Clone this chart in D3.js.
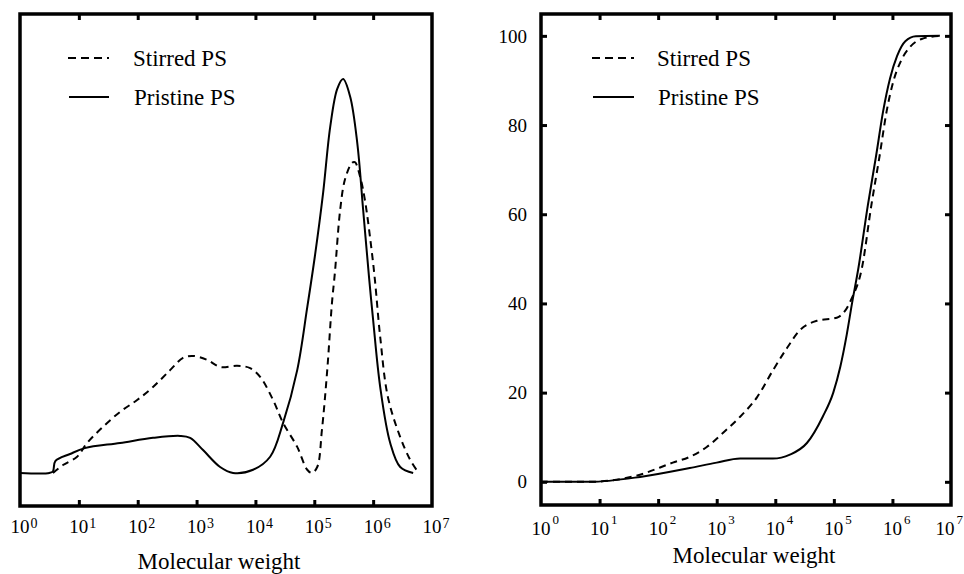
<!DOCTYPE html>
<html><head><meta charset="utf-8">
<script src="https://cdn.jsdelivr.net/npm/d3@7"></script>
<style>
body{margin:0;background:#fff}
svg{display:block}
</style>
</head><body>
<svg id="chart" width="964" height="574" font-family="'Liberation Serif','Times New Roman','DejaVu Serif',serif"></svg>
<script>
// ---------- DATA ----------
const xTickExponents = [0, 1, 2, 3, 4, 5, 6, 7];
const yTicksRight = [0, 20, 40, 60, 80, 100];
const seriesNames = ["Stirred PS", "Pristine PS"];
const xTitle = "Molecular weight";

// Left panel: differential distribution (arbitrary units, pristine peak = 1)
const leftPristineLogM = [0, 0.50, 0.56, 0.60, 0.85, 1.10, 1.70, 2.26, 2.72, 2.89, 3.11, 3.40, 3.62, 3.96, 4.25, 4.47, 4.71, 4.88, 5.01, 5.15, 5.27, 5.39, 5.49, 5.61, 5.73, 5.83, 5.93, 6.00, 6.12, 6.29, 6.46, 6.68];
const leftPristineVal  = [0, 0, 0.004, 0.030, 0.048, 0.063, 0.076, 0.089, 0.094, 0.089, 0.058, 0.015, 0.0, 0.008, 0.041, 0.127, 0.261, 0.420, 0.550, 0.711, 0.878, 0.975, 1.0, 0.955, 0.838, 0.668, 0.497, 0.388, 0.218, 0.076, 0.015, 0.0];
const leftStirredLogM  = [0.56, 0.73, 0.97, 1.14, 1.41, 1.70, 1.99, 2.26, 2.55, 2.77, 2.94, 3.18, 3.40, 3.69, 3.91, 4.08, 4.30, 4.47, 4.71, 4.88, 4.96, 5.05, 5.13, 5.22, 5.30, 5.35, 5.44, 5.52, 5.64, 5.69, 5.78, 5.86, 5.98, 6.03, 6.12, 6.25, 6.46, 6.63, 6.76];
const leftStirredVal   = [0.0, 0.020, 0.041, 0.076, 0.117, 0.155, 0.185, 0.218, 0.261, 0.292, 0.297, 0.287, 0.269, 0.272, 0.266, 0.244, 0.185, 0.127, 0.066, 0.008, 0.0, 0.015, 0.109, 0.261, 0.431, 0.508, 0.668, 0.744, 0.787, 0.789, 0.751, 0.693, 0.558, 0.490, 0.345, 0.193, 0.091, 0.033, 0.003];

// Right panel: cumulative distribution (%)
const rightPristineLogM = [0, 0.84, 1.69, 2.54, 3.00, 3.40, 3.96, 4.25, 4.54, 4.81, 4.99, 5.11, 5.22, 5.31, 5.42, 5.58, 5.72, 5.84, 5.96, 6.08, 6.22, 6.40, 6.81];
const rightPristineVal  = [0, 0, 1.1, 3.1, 4.3, 5.2, 5.2, 6.1, 8.7, 14.6, 20, 25.8, 33, 40, 48, 62, 73, 83, 90.5, 95.5, 98.8, 99.9, 100];
const rightStirredLogM  = [0, 0.84, 1.69, 2.25, 2.54, 2.83, 3.11, 3.40, 3.69, 3.96, 4.20, 4.42, 4.71, 5.05, 5.20, 5.30, 5.48, 5.64, 5.78, 5.90, 6.02, 6.15, 6.30, 6.50, 6.81];
const rightStirredVal   = [0, 0, 1.6, 4.3, 5.6, 7.8, 11, 14.6, 19, 25, 30, 34, 36.1, 36.8, 38.5, 41, 48, 62, 73, 83, 90, 94.5, 97.5, 99.3, 100];

// ---------- DRAW ----------
const svg = d3.select("#chart");
const zip = (lx, v) => lx.map((l, i) => ({ m: Math.pow(10, l), v: v[i] }));

function panel(opts) {
  const x = d3.scaleLog().domain([1, 1e7]).range([opts.x0, opts.x1]);
  const y = d3.scaleLinear().domain(opts.yDomain).range([opts.y1, opts.y0]);
  const g = svg.append("g");

  const line = d3.line().x(d => x(d.m)).y(d => y(d.v)).curve(opts.curve);
  g.append("path").datum(zip(opts.stirred[0], opts.stirred[1]))
    .attr("d", line).attr("fill", "none").attr("stroke", "#000")
    .attr("stroke-width", 2).attr("stroke-dasharray", "7,5");
  g.append("path").datum(zip(opts.pristine[0], opts.pristine[1]))
    .attr("d", line).attr("fill", "none").attr("stroke", "#000")
    .attr("stroke-width", 2);

  // inner x ticks top & bottom
  const inner = xTickExponents.slice(1, -1).map(e => Math.pow(10, e));
  const bAx = g.append("g").attr("transform", `translate(0,${opts.y1})`)
    .call(d3.axisBottom(x).tickValues(inner).tickSizeInner(-6).tickSizeOuter(0).tickFormat(""));
  const tAx = g.append("g").attr("transform", `translate(0,${opts.y0})`)
    .call(d3.axisTop(x).tickValues(inner).tickSizeInner(-6).tickSizeOuter(0).tickFormat(""));
  [bAx, tAx].forEach(a => { a.select(".domain").remove(); a.selectAll("line").attr("stroke", "#000").attr("stroke-width", 3); });

  if (opts.yTicks) {
    const lAx = g.append("g").attr("transform", `translate(${opts.x0},0)`)
      .call(d3.axisLeft(y).tickValues(opts.yTicks).tickSizeInner(-6).tickSizeOuter(0).tickFormat(""));
    const rAx = g.append("g").attr("transform", `translate(${opts.x1},0)`)
      .call(d3.axisRight(y).tickValues(opts.yTicks).tickSizeInner(-6).tickSizeOuter(0).tickFormat(""));
    [lAx, rAx].forEach(a => { a.select(".domain").remove(); a.selectAll("line").attr("stroke", "#000").attr("stroke-width", 3); });
    g.selectAll(".ylab").data(opts.yTicks).join("text")
      .attr("x", opts.x0 - 14).attr("y", d => y(d)).attr("dy", "0.35em")
      .attr("text-anchor", "end").attr("font-size", 19).text(d => d);
  }

  // frame
  g.append("rect").attr("x", opts.x0).attr("y", opts.y0)
    .attr("width", opts.x1 - opts.x0).attr("height", opts.y1 - opts.y0)
    .attr("fill", "none").attr("stroke", "#000").attr("stroke-width", 3.5);

  // x tick labels 10^n
  const lab = g.selectAll(".xlab").data(xTickExponents).join("text")
    .attr("x", (e, i) => x(Math.pow(10, e)) - 9.5 - (i === xTickExponents.length - 1 ? opts.lastShift : 0))
    .attr("y", opts.labBase)
    .attr("font-size", 19);
  lab.append("tspan").text("10");
  lab.append("tspan").attr("font-size", opts.supSize).attr("dy", -opts.supRaise)
    .attr("dx", opts.supDx).text(e => e);

  g.append("text").attr("x", opts.titleX).attr("y", opts.titleY)
    .attr("text-anchor", "middle").attr("font-size", 23).text(xTitle);

  // legend
  const lg = opts.legend;
  g.append("line").attr("x1", lg.x0).attr("x2", lg.x1).attr("y1", 58).attr("y2", 58)
    .attr("stroke", "#000").attr("stroke-width", 2).attr("stroke-dasharray", "8,5");
  g.append("line").attr("x1", lg.x0 + 1).attr("x2", lg.x1).attr("y1", 97).attr("y2", 97)
    .attr("stroke", "#000").attr("stroke-width", 2);
  g.append("text").attr("x", lg.tx).attr("y", 66).attr("font-size", 23).text(seriesNames[0]);
  g.append("text").attr("x", lg.tx + 1).attr("y", 105).attr("font-size", 23).text(seriesNames[1]);
}

panel({
  x0: 20, x1: 432, y0: 14, y1: 506,
  yDomain: [-0.084, 1.165],
  curve: d3.curveCatmullRom.alpha(0.5),
  pristine: [leftPristineLogM, leftPristineVal],
  stirred: [leftStirredLogM, leftStirredVal],
  yTicks: null,
  labBase: 533, supSize: 14, supRaise: 5, supDx: 1, lastShift: 0,
  titleX: 219, titleY: 569,
  legend: { x0: 68, x1: 109, tx: 133 }
});

panel({
  x0: 541, x1: 951, y0: 14, y1: 505,
  yDomain: [-5.2, 104.9],
  curve: d3.curveMonotoneX,
  pristine: [rightPristineLogM, rightPristineVal],
  stirred: [rightStirredLogM, rightStirredVal],
  yTicks: yTicksRight,
  labBase: 535, supSize: 13, supRaise: 11, supDx: 2, lastShift: 6,
  titleX: 754, titleY: 563,
  legend: { x0: 592, x1: 634, tx: 657 }
});
</script>
</body></html>
